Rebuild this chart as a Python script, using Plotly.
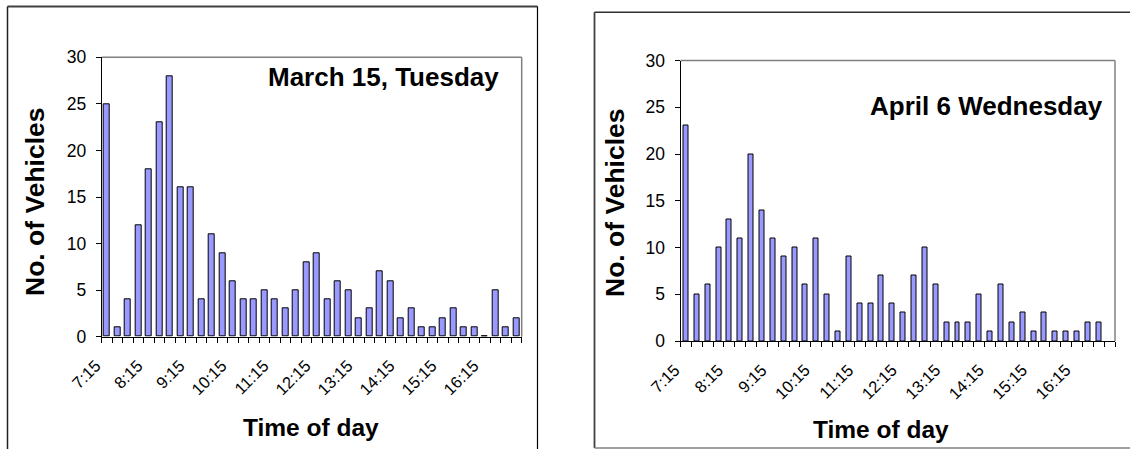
import plotly.graph_objects as go

# 15-minute counting intervals, 7:15 through 17:00
time_slots = [
    "7:15", "7:30", "7:45", "8:00", "8:15", "8:30", "8:45", "9:00",
    "9:15", "9:30", "9:45", "10:00", "10:15", "10:30", "10:45", "11:00",
    "11:15", "11:30", "11:45", "12:00", "12:15", "12:30", "12:45", "13:00",
    "13:15", "13:30", "13:45", "14:00", "14:15", "14:30", "14:45", "15:00",
    "15:15", "15:30", "15:45", "16:00", "16:15", "16:30", "16:45", "17:00",
]

# vehicles counted per interval
march_15_tue = [25, 1, 4, 12, 18, 23, 28, 16, 16, 4,
                11, 9, 6, 4, 4, 5, 4, 3, 5, 8,
                9, 4, 6, 5, 2, 3, 7, 6, 2, 3,
                1, 1, 2, 3, 1, 1, 0, 5, 1, 2]
april_6_wed = [23, 5, 6, 10, 13, 11, 20, 14, 11, 9,
               10, 6, 11, 5, 1, 9, 4, 4, 7, 4,
               3, 7, 10, 6, 2, 2, 2, 5, 1, 6,
               2, 3, 1, 3, 1, 1, 1, 2, 2]

label_every = 4
y_ticks = [0, 5, 10, 15, 20, 25, 30]

W, H = 1130, 449
FONT = "Liberation Sans, Arial, sans-serif"
BAR_FILL = "#9999FF"


def px(x):
    return x / W


def py(y):
    return 1 - y / H


fig = go.Figure()

fig.add_trace(go.Bar(
    x=list(range(len(march_15_tue))), y=march_15_tue, width=0.6,
    marker=dict(color=BAR_FILL, line=dict(color="black", width=1)),
    xaxis="x", yaxis="y", showlegend=False,
))
fig.add_trace(go.Bar(
    x=list(range(len(april_6_wed))), y=april_6_wed, width=0.46,
    marker=dict(color=BAR_FILL, line=dict(color="black", width=1)),
    xaxis="x2", yaxis="y2", showlegend=False,
))

tick_idx = list(range(0, len(time_slots), label_every))
tick_txt = [time_slots[i] for i in tick_idx]


def xaxis_cfg(domain, anchor):
    return dict(
        domain=domain, anchor=anchor,
        range=[-0.5, len(time_slots) - 0.5],
        tickmode="array", tickvals=tick_idx, ticktext=tick_txt,
        tickangle=-45, ticks="",
        ticklabelstandoff=12, ticklabelshift=-11,
        minor=dict(tick0=-0.5, dtick=1, ticks="outside", ticklen=5,
                   tickcolor="black", tickwidth=1),
        showline=True, linecolor="black", linewidth=1,
        showgrid=False, zeroline=False,
        tickfont=dict(family=FONT, size=16.5, color="black"),
        fixedrange=True,
    )


def yaxis_cfg(domain, anchor):
    return dict(
        domain=domain, anchor=anchor,
        range=[0, 30], tickmode="array", tickvals=y_ticks,
        ticks="outside", ticklen=5, tickcolor="black", tickwidth=1,
        ticklabelstandoff=6,
        showline=True, linecolor="black", linewidth=1,
        showgrid=False, zeroline=False,
        tickfont=dict(family=FONT, size=17.5, color="black"),
        fixedrange=True,
    )


L = dict(x0=101.7, x1=521.7, y0=57.3, y1=336.7)
R = dict(x0=680.5, x1=1115.0, y0=60.5, y1=341.0)

fig.update_layout(
    width=W, height=H, autosize=False,
    margin=dict(l=0, r=0, t=0, b=0, autoexpand=False),
    paper_bgcolor="white", plot_bgcolor="white",
    bargap=0,
    xaxis=xaxis_cfg([px(L["x0"]), px(L["x1"])], "y"),
    yaxis=yaxis_cfg([py(L["y1"]), py(L["y0"])], "x"),
    xaxis2=xaxis_cfg([px(R["x0"]), px(R["x1"])], "y2"),
    yaxis2=yaxis_cfg([py(R["y1"]), py(R["y0"])], "x2"),
)

shapes = []
# grey plot-area border on top and right
for b in (L, R):
    shapes.append(dict(type="line", xref="paper", yref="paper",
                       x0=px(b["x0"]), x1=px(b["x1"]), y0=py(b["y0"]), y1=py(b["y0"]),
                       line=dict(color="#808080", width=1.5), layer="below"))
    shapes.append(dict(type="line", xref="paper", yref="paper",
                       x0=px(b["x1"]), x1=px(b["x1"]), y0=py(b["y0"]), y1=py(b["y1"]),
                       line=dict(color="#808080", width=1.5), layer="below"))

# chart frames
shapes += [
    dict(type="line", xref="paper", yref="paper", x0=px(7.5), x1=px(537.5),
         y0=py(6.5), y1=py(6.5), line=dict(color="#404040", width=2)),
    dict(type="line", xref="paper", yref="paper", x0=px(7.5), x1=px(7.5),
         y0=py(6.5), y1=py(452), line=dict(color="#202020", width=1.5)),
    dict(type="line", xref="paper", yref="paper", x0=px(537.5), x1=px(537.5),
         y0=py(6.5), y1=py(452), line=dict(color="black", width=1.2)),
    dict(type="line", xref="paper", yref="paper", x0=px(594.5), x1=px(1132),
         y0=py(12.3), y1=py(12.3), line=dict(color="#303030", width=1.5)),
    dict(type="line", xref="paper", yref="paper", x0=px(594.5), x1=px(594.5),
         y0=py(12.3), y1=py(448), line=dict(color="#404040", width=1.8)),
    dict(type="line", xref="paper", yref="paper", x0=px(594.5), x1=px(1132),
         y0=py(448), y1=py(448), line=dict(color="#808080", width=1.5)),
]
fig.update_layout(shapes=shapes)


def note(text, x, y, size, xanchor="center", angle=0):
    return dict(text=text, xref="paper", yref="paper", x=px(x), y=py(y),
                xanchor=xanchor, yanchor="middle", textangle=angle,
                showarrow=False, font=dict(family=FONT, size=size, color="black"))


annotations = [
    note("<b>March 15, Tuesday</b>", 501, 77, 26, xanchor="right"),
    note("<b>April 6 Wednesday</b>", 1105, 106, 26, xanchor="right"),
    note("<b>No. of Vehicles</b>", 35, 202, 26.5, angle=-90),
    note("<b>No. of Vehicles</b>", 615, 203, 26.5, angle=-90),
    note("<b>Time of day</b>", 311, 427, 24.5),
    note("<b>Time of day</b>", 881, 429, 24.5),
]
fig.update_layout(annotations=annotations)

fig.write_html("out.html")
